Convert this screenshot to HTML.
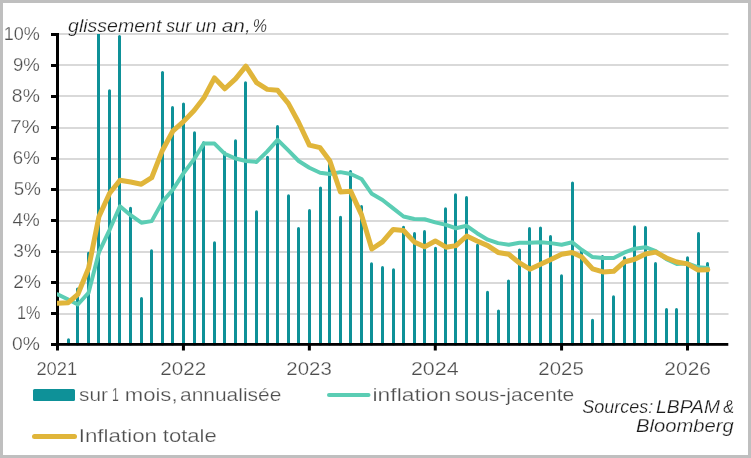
<!DOCTYPE html>
<html><head><meta charset="utf-8"><style>
html,body{margin:0;padding:0;background:#fff;}
#c{position:relative;width:751px;height:458px;box-sizing:border-box;border:3px solid #bfbfbf;background:#fff;overflow:hidden;}
svg{position:absolute;left:-3px;top:-3px;will-change:transform;}
text{font-family:"Liberation Sans",sans-serif;paint-order:fill;}
</style></head><body><div id="c">
<svg width="751" height="458" viewBox="0 0 751 458">
<rect x="59" y="313.00" width="669.5" height="2" fill="#d9d9d9"/>
<rect x="59" y="282.00" width="669.5" height="2" fill="#d9d9d9"/>
<rect x="59" y="251.00" width="669.5" height="2" fill="#d9d9d9"/>
<rect x="59" y="220.00" width="669.5" height="2" fill="#d9d9d9"/>
<rect x="59" y="189.00" width="669.5" height="2" fill="#d9d9d9"/>
<rect x="59" y="158.00" width="669.5" height="2" fill="#d9d9d9"/>
<rect x="59" y="127.00" width="669.5" height="2" fill="#d9d9d9"/>
<rect x="59" y="95.00" width="669.5" height="2" fill="#d9d9d9"/>
<rect x="59" y="64.00" width="669.5" height="2" fill="#d9d9d9"/>
<rect x="59" y="33.00" width="669.5" height="2" fill="#d9d9d9"/>
<rect x="67" y="338.30" width="3" height="7.20" rx="1.5" fill="#0e9198"/>
<rect x="76" y="287.46" width="3" height="58.04" rx="1.5" fill="#0e9198"/>
<rect x="87" y="251.81" width="3" height="93.69" rx="1.5" fill="#0e9198"/>
<rect x="97" y="34" width="3" height="311" fill="#0e9198"/>
<rect x="108" y="89.37" width="3" height="256.13" rx="1.5" fill="#0e9198"/>
<rect x="118" y="35.12" width="3" height="310.38" rx="1.5" fill="#0e9198"/>
<rect x="129" y="206.86" width="3" height="138.64" rx="1.5" fill="#0e9198"/>
<rect x="140" y="297.07" width="3" height="48.43" rx="1.5" fill="#0e9198"/>
<rect x="150" y="249.33" width="3" height="96.17" rx="1.5" fill="#0e9198"/>
<rect x="161" y="71.08" width="3" height="274.42" rx="1.5" fill="#0e9198"/>
<rect x="171" y="106.11" width="3" height="239.39" rx="1.5" fill="#0e9198"/>
<rect x="182" y="102.39" width="3" height="243.11" rx="1.5" fill="#0e9198"/>
<rect x="193" y="131.22" width="3" height="214.28" rx="1.5" fill="#0e9198"/>
<rect x="202" y="141.14" width="3" height="204.36" rx="1.5" fill="#0e9198"/>
<rect x="213" y="241.27" width="3" height="104.23" rx="1.5" fill="#0e9198"/>
<rect x="223" y="151.06" width="3" height="194.44" rx="1.5" fill="#0e9198"/>
<rect x="234" y="139.28" width="3" height="206.22" rx="1.5" fill="#0e9198"/>
<rect x="244" y="81.31" width="3" height="264.19" rx="1.5" fill="#0e9198"/>
<rect x="255" y="210.27" width="3" height="135.23" rx="1.5" fill="#0e9198"/>
<rect x="266" y="155.71" width="3" height="189.79" rx="1.5" fill="#0e9198"/>
<rect x="276" y="125.02" width="3" height="220.48" rx="1.5" fill="#0e9198"/>
<rect x="287" y="194.15" width="3" height="151.35" rx="1.5" fill="#0e9198"/>
<rect x="297" y="227.01" width="3" height="118.49" rx="1.5" fill="#0e9198"/>
<rect x="308" y="209.03" width="3" height="136.47" rx="1.5" fill="#0e9198"/>
<rect x="319" y="186.40" width="3" height="159.10" rx="1.5" fill="#0e9198"/>
<rect x="328" y="163.15" width="3" height="182.35" rx="1.5" fill="#0e9198"/>
<rect x="339" y="215.85" width="3" height="129.65" rx="1.5" fill="#0e9198"/>
<rect x="349" y="169.97" width="3" height="175.53" rx="1.5" fill="#0e9198"/>
<rect x="360" y="205.00" width="3" height="140.50" rx="1.5" fill="#0e9198"/>
<rect x="370" y="262.35" width="3" height="83.15" rx="1.5" fill="#0e9198"/>
<rect x="381" y="266.07" width="3" height="79.43" rx="1.5" fill="#0e9198"/>
<rect x="392" y="268.24" width="3" height="77.26" rx="1.5" fill="#0e9198"/>
<rect x="402" y="225.77" width="3" height="119.73" rx="1.5" fill="#0e9198"/>
<rect x="413" y="231.97" width="3" height="113.53" rx="1.5" fill="#0e9198"/>
<rect x="423" y="230.11" width="3" height="115.39" rx="1.5" fill="#0e9198"/>
<rect x="434" y="246.85" width="3" height="98.65" rx="1.5" fill="#0e9198"/>
<rect x="444" y="207.17" width="3" height="138.33" rx="1.5" fill="#0e9198"/>
<rect x="454" y="193.22" width="3" height="152.28" rx="1.5" fill="#0e9198"/>
<rect x="465" y="196.01" width="3" height="149.49" rx="1.5" fill="#0e9198"/>
<rect x="476" y="243.75" width="3" height="101.75" rx="1.5" fill="#0e9198"/>
<rect x="486" y="290.87" width="3" height="54.63" rx="1.5" fill="#0e9198"/>
<rect x="497" y="309.47" width="3" height="36.03" rx="1.5" fill="#0e9198"/>
<rect x="507" y="279.40" width="3" height="66.10" rx="1.5" fill="#0e9198"/>
<rect x="518" y="248.40" width="3" height="97.10" rx="1.5" fill="#0e9198"/>
<rect x="528" y="227.01" width="3" height="118.49" rx="1.5" fill="#0e9198"/>
<rect x="539" y="226.39" width="3" height="119.11" rx="1.5" fill="#0e9198"/>
<rect x="549" y="235.07" width="3" height="110.43" rx="1.5" fill="#0e9198"/>
<rect x="560" y="274.13" width="3" height="71.37" rx="1.5" fill="#0e9198"/>
<rect x="571" y="181.44" width="3" height="164.06" rx="1.5" fill="#0e9198"/>
<rect x="580" y="248.71" width="3" height="96.79" rx="1.5" fill="#0e9198"/>
<rect x="591" y="318.77" width="3" height="26.73" rx="1.5" fill="#0e9198"/>
<rect x="601" y="254.91" width="3" height="90.59" rx="1.5" fill="#0e9198"/>
<rect x="612" y="295.21" width="3" height="50.29" rx="1.5" fill="#0e9198"/>
<rect x="623" y="256.15" width="3" height="89.35" rx="1.5" fill="#0e9198"/>
<rect x="633" y="225.15" width="3" height="120.35" rx="1.5" fill="#0e9198"/>
<rect x="644" y="226.08" width="3" height="119.42" rx="1.5" fill="#0e9198"/>
<rect x="654" y="262.04" width="3" height="83.46" rx="1.5" fill="#0e9198"/>
<rect x="665" y="307.92" width="3" height="37.58" rx="1.5" fill="#0e9198"/>
<rect x="675" y="307.92" width="3" height="37.58" rx="1.5" fill="#0e9198"/>
<rect x="686" y="256.15" width="3" height="89.35" rx="1.5" fill="#0e9198"/>
<rect x="697" y="231.97" width="3" height="113.53" rx="1.5" fill="#0e9198"/>
<rect x="706" y="262.04" width="3" height="83.46" rx="1.5" fill="#0e9198"/>
<rect x="56" y="33" width="3" height="313" fill="#000"/>
<rect x="56" y="343" width="672.3" height="2.8" fill="#000"/>
<rect x="51" y="343.00" width="6" height="3" fill="#000"/>
<rect x="51" y="312.00" width="6" height="3" fill="#000"/>
<rect x="51" y="281.00" width="6" height="3" fill="#000"/>
<rect x="51" y="250.00" width="6" height="3" fill="#000"/>
<rect x="51" y="219.00" width="6" height="3" fill="#000"/>
<rect x="51" y="188.00" width="6" height="3" fill="#000"/>
<rect x="51" y="157.00" width="6" height="3" fill="#000"/>
<rect x="51" y="126.00" width="6" height="3" fill="#000"/>
<rect x="51" y="95.00" width="6" height="3" fill="#000"/>
<rect x="51" y="64.00" width="6" height="3" fill="#000"/>
<rect x="51" y="33.00" width="6" height="3" fill="#000"/>
<rect x="56.00" y="344" width="3" height="6.5" fill="#000"/>
<rect x="181.93" y="344" width="3" height="6.5" fill="#000"/>
<rect x="307.86" y="344" width="3" height="6.5" fill="#000"/>
<rect x="433.79" y="344" width="3" height="6.5" fill="#000"/>
<rect x="560.07" y="344" width="3" height="6.5" fill="#000"/>
<rect x="686.00" y="344" width="3" height="6.5" fill="#000"/>
<defs><clipPath id="pc"><rect x="57" y="0" width="700" height="458"/></clipPath></defs>
<g clip-path="url(#pc)">
<polyline points="57.50,294.28 68.20,299.55 77.86,304.51 88.55,292.73 98.90,252.43 109.60,229.80 119.95,206.24 130.64,215.23 141.34,222.67 151.69,221.12 162.38,201.90 172.74,189.81 183.43,173.38 194.13,159.12 203.79,143.62 214.48,143.62 224.83,153.85 235.53,158.50 245.88,160.98 256.57,161.91 267.27,151.37 277.62,139.90 288.32,150.44 298.67,160.98 309.36,167.80 320.06,172.76 329.72,174.00 340.41,172.14 350.76,174.00 361.46,178.96 371.81,193.84 382.51,200.04 393.20,208.41 403.55,216.47 414.25,218.95 424.60,219.26 435.29,222.36 445.99,224.84 455.99,228.25 466.69,225.77 477.04,233.21 487.74,239.72 498.09,243.13 508.78,244.68 519.48,242.82 529.83,242.82 540.52,242.20 550.87,243.13 561.57,244.68 572.26,242.20 581.92,249.95 592.62,257.08 602.97,258.01 613.67,258.01 624.02,252.74 634.71,248.71 645.41,247.16 655.76,251.19 666.45,259.25 676.80,263.90 687.50,263.28 698.20,267.31 707.86,267.93" fill="none" stroke="#5bcdb4" stroke-width="4" stroke-linejoin="round" stroke-linecap="round"/>
<polyline points="57.50,303.27 68.20,302.65 77.86,294.28 88.55,268.24 98.90,216.78 109.60,193.22 119.95,180.20 130.64,182.06 141.34,184.23 151.69,177.72 162.38,150.44 172.74,131.22 183.43,121.61 194.13,110.45 203.79,98.05 214.48,77.90 224.83,88.75 235.53,78.83 245.88,66.12 256.57,82.55 267.27,89.37 277.62,90.30 288.32,103.32 298.67,122.54 309.36,145.17 320.06,147.65 329.72,160.67 340.41,191.98 350.76,191.36 361.46,214.61 371.81,249.02 382.51,241.89 393.20,229.49 403.55,230.42 414.25,241.89 424.60,246.85 435.29,240.96 445.99,247.16 455.99,245.61 466.69,236.00 477.04,240.96 487.74,245.61 498.09,252.43 508.78,254.29 519.48,262.97 529.83,269.17 540.52,264.21 550.87,259.56 561.57,254.29 572.26,252.43 581.92,257.08 592.62,268.86 602.97,271.96 613.67,271.34 624.02,262.04 634.71,259.25 645.41,253.98 655.76,252.12 666.45,258.01 676.80,262.04 687.50,263.90 698.20,270.10 707.86,269.79" fill="none" stroke="#e0b53a" stroke-width="5" stroke-linejoin="round" stroke-linecap="round"/>
</g>
<text x="11.93" y="349.95" style="font-size:18.5px;" fill="#4d4d4d" stroke="#fff" stroke-width="0.25" textLength="27.90" lengthAdjust="spacingAndGlyphs">0%</text>
<text x="16.88" y="318.95" style="font-size:18.5px;" fill="#4d4d4d" stroke="#fff" stroke-width="0.25" textLength="23.43" lengthAdjust="spacingAndGlyphs">1%</text>
<text x="13.35" y="287.95" style="font-size:18.5px;" fill="#4d4d4d" stroke="#fff" stroke-width="0.25" textLength="27.58" lengthAdjust="spacingAndGlyphs">2%</text>
<text x="13.39" y="256.95" style="font-size:18.5px;" fill="#4d4d4d" stroke="#fff" stroke-width="0.25" textLength="27.54" lengthAdjust="spacingAndGlyphs">3%</text>
<text x="12.58" y="225.95" style="font-size:18.5px;" fill="#4d4d4d" stroke="#fff" stroke-width="0.25" textLength="27.24" lengthAdjust="spacingAndGlyphs">4%</text>
<text x="13.85" y="194.95" style="font-size:18.5px;" fill="#4d4d4d" stroke="#fff" stroke-width="0.25" textLength="27.06" lengthAdjust="spacingAndGlyphs">5%</text>
<text x="12.87" y="163.95" style="font-size:18.5px;" fill="#4d4d4d" stroke="#fff" stroke-width="0.25" textLength="26.94" lengthAdjust="spacingAndGlyphs">6%</text>
<text x="10.15" y="132.95" style="font-size:18.5px;" fill="#4d4d4d" stroke="#fff" stroke-width="0.25" textLength="29.73" lengthAdjust="spacingAndGlyphs">7%</text>
<text x="11.88" y="101.95" style="font-size:18.5px;" fill="#4d4d4d" stroke="#fff" stroke-width="0.25" textLength="27.95" lengthAdjust="spacingAndGlyphs">8%</text>
<text x="12.92" y="70.95" style="font-size:18.5px;" fill="#4d4d4d" stroke="#fff" stroke-width="0.25" textLength="26.89" lengthAdjust="spacingAndGlyphs">9%</text>
<text x="3.75" y="39.95" style="font-size:18.5px;" fill="#4d4d4d" stroke="#fff" stroke-width="0.25" textLength="36.11" lengthAdjust="spacingAndGlyphs">10%</text>
<text x="36.38" y="374.9" style="font-size:18.5px;" fill="#4d4d4d" stroke="#fff" stroke-width="0.25" textLength="40.83" lengthAdjust="spacingAndGlyphs">2021</text>
<text x="160.37" y="374.9" style="font-size:18.5px;" fill="#4d4d4d" stroke="#fff" stroke-width="0.25" textLength="45.91" lengthAdjust="spacingAndGlyphs">2022</text>
<text x="286.38" y="374.9" style="font-size:18.5px;" fill="#4d4d4d" stroke="#fff" stroke-width="0.25" textLength="45.43" lengthAdjust="spacingAndGlyphs">2023</text>
<text x="410.93" y="374.9" style="font-size:18.5px;" fill="#4d4d4d" stroke="#fff" stroke-width="0.25" textLength="47.71" lengthAdjust="spacingAndGlyphs">2024</text>
<text x="538.38" y="374.9" style="font-size:18.5px;" fill="#4d4d4d" stroke="#fff" stroke-width="0.25" textLength="45.38" lengthAdjust="spacingAndGlyphs">2025</text>
<text x="664.35" y="374.9" style="font-size:18.5px;" fill="#4d4d4d" stroke="#fff" stroke-width="0.25" textLength="46.58" lengthAdjust="spacingAndGlyphs">2026</text>
<text x="68.05" y="32" style="font-size:18.5px;font-style:italic;" fill="#1a1a1a" stroke="#fff" stroke-width="0.25" textLength="93.36" lengthAdjust="spacingAndGlyphs">glissement</text>
<text x="165.95" y="32" style="font-size:18.5px;font-style:italic;" fill="#1a1a1a" stroke="#fff" stroke-width="0.25" textLength="25.47" lengthAdjust="spacingAndGlyphs">sur</text>
<text x="195.49" y="32" style="font-size:18.5px;font-style:italic;" fill="#1a1a1a" stroke="#fff" stroke-width="0.25" textLength="21.21" lengthAdjust="spacingAndGlyphs">un</text>
<text x="221.73" y="32" style="font-size:18.5px;font-style:italic;" fill="#1a1a1a" stroke="#fff" stroke-width="0.25" textLength="28.97" lengthAdjust="spacingAndGlyphs">an,</text>
<text x="252.74" y="32" style="font-size:18.5px;font-style:italic;" fill="#1a1a1a" stroke="#fff" stroke-width="0.25" textLength="14.27" lengthAdjust="spacingAndGlyphs">%</text>
<rect x="33" y="389" width="42" height="12" rx="1.5" fill="#0e9198"/>
<text x="79.13" y="400.7" style="font-size:19px;" fill="#4d4d4d" stroke="#fff" stroke-width="0.25" textLength="28.82" lengthAdjust="spacingAndGlyphs">sur</text>
<text x="112.08" y="400.7" style="font-size:19px;" fill="#4d4d4d" stroke="#fff" stroke-width="0.25" textLength="6.82" lengthAdjust="spacingAndGlyphs">1</text>
<text x="124.81" y="400.7" style="font-size:19px;" fill="#4d4d4d" stroke="#fff" stroke-width="0.25" textLength="52.76" lengthAdjust="spacingAndGlyphs">mois,</text>
<text x="180.01" y="400.7" style="font-size:19px;" fill="#4d4d4d" stroke="#fff" stroke-width="0.25" textLength="101.38" lengthAdjust="spacingAndGlyphs">annualisée</text>
<line x1="329" y1="395" x2="368.5" y2="395" stroke="#5bcdb4" stroke-width="4" stroke-linecap="round"/>
<text x="372.56" y="400.6" style="font-size:19px;" fill="#4d4d4d" stroke="#fff" stroke-width="0.25" textLength="78.77" lengthAdjust="spacingAndGlyphs">inflation</text>
<text x="454.72" y="400.6" style="font-size:19px;" fill="#4d4d4d" stroke="#fff" stroke-width="0.25" textLength="119.58" lengthAdjust="spacingAndGlyphs">sous-jacente</text>
<line x1="34.5" y1="436.5" x2="74.5" y2="436.5" stroke="#e0b53a" stroke-width="5" stroke-linecap="round"/>
<text x="78.73" y="441.8" style="font-size:19px;" fill="#4d4d4d" stroke="#fff" stroke-width="0.25" textLength="78.32" lengthAdjust="spacingAndGlyphs">Inflation</text>
<text x="162.77" y="441.8" style="font-size:19px;" fill="#4d4d4d" stroke="#fff" stroke-width="0.25" textLength="54.00" lengthAdjust="spacingAndGlyphs">totale</text>
<text x="582.21" y="412.7" style="font-size:18.5px;font-style:italic;" fill="#1a1a1a" stroke="#fff" stroke-width="0.25" textLength="71.03" lengthAdjust="spacingAndGlyphs">Sources:</text>
<text x="656.12" y="412.7" style="font-size:18.5px;font-style:italic;" fill="#1a1a1a" stroke="#fff" stroke-width="0.25" textLength="63.87" lengthAdjust="spacingAndGlyphs">LBPAM</text>
<text x="723.36" y="412.7" style="font-size:18.5px;font-style:italic;" fill="#1a1a1a" stroke="#fff" stroke-width="0.25" textLength="10.83" lengthAdjust="spacingAndGlyphs">&amp;</text>
<text x="635.99" y="431.7" style="font-size:18.5px;font-style:italic;" fill="#1a1a1a" stroke="#fff" stroke-width="0.25" textLength="97.73" lengthAdjust="spacingAndGlyphs">Bloomberg</text>
</svg></div></body></html>
